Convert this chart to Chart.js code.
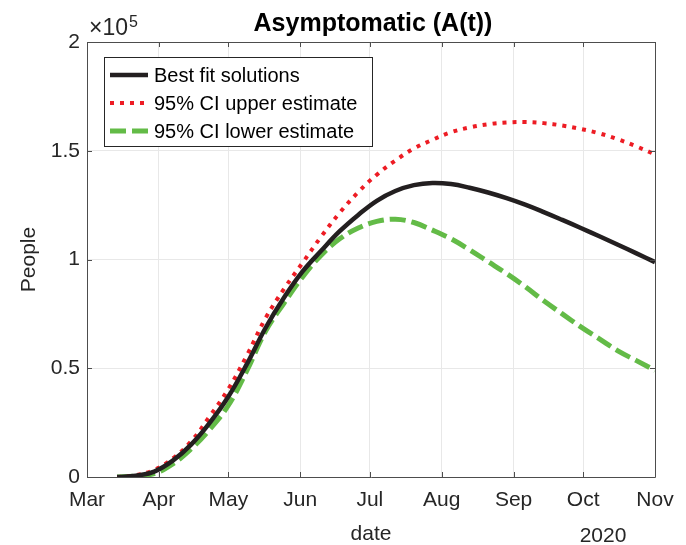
<!DOCTYPE html>
<html>
<head>
<meta charset="utf-8">
<script src="https://cdn.jsdelivr.net/npm/chart.js@4.4.1/dist/chart.umd.min.js"></script>
<style>
  body { margin: 0; background: #fff; }
  #wrap { width: 686px; height: 545px; }
</style>
</head>
<body>
<div id="wrap"><canvas id="asymChart" width="686" height="545"></canvas></div>
<script>
// Dates of the read-off points (2020, every 8 days)
const dates = ['2020-03-14', '2020-03-22', '2020-03-30', '2020-04-07', '2020-04-15', '2020-04-23',
    '2020-05-01', '2020-05-09', '2020-05-17', '2020-05-25', '2020-06-02', '2020-06-10',
    '2020-06-18', '2020-06-26', '2020-07-04', '2020-07-12', '2020-07-20', '2020-07-28',
    '2020-08-05', '2020-08-13', '2020-08-21', '2020-08-29', '2020-09-06', '2020-09-14',
    '2020-09-22', '2020-09-30', '2020-10-08', '2020-10-16', '2020-10-24', '2020-11-01'];

// Asymptomatic people
const bestFit = [0, 600, 2500, 7500, 15000, 25000, 37000, 52000, 68500, 82500, 94500, 104000,
    113000, 120500, 127000, 131500, 134200, 135200, 134700, 133000, 130800, 128200, 125200, 121800,
    118200, 114500, 110700, 106800, 102800, 98800];
const upperCI = [0, 800, 3300, 8500, 16500, 28000, 40500, 56000, 73000, 86500, 98500, 110500,
    121500, 131000, 139000, 145500, 151000, 155000, 158500, 160700, 162200, 163000, 163200, 162700,
    161600, 160000, 158000, 155300, 152000, 148300];
const lowerCI = [0, 400, 1600, 6000, 13000, 22000, 33000, 49000, 67000, 80000, 92000, 102000,
    109500, 114500, 117500, 118500, 117000, 113500, 109500, 104500, 99000, 93500, 87500, 81000,
    75000, 69000, 63500, 58000, 53500, 49000];

// Month tick labels (x axis counts days from 1 Mar 2020)
const monthNames = ['Mar', 'Apr', 'May', 'Jun', 'Jul', 'Aug', 'Sep', 'Oct', 'Nov'];
const monthStarts = ['2020-03-01', '2020-04-01', '2020-05-01', '2020-06-01', '2020-07-01',
    '2020-08-01', '2020-09-01', '2020-10-01', '2020-11-01'];

const FONT = '"Liberation Sans", Arial, Helvetica, sans-serif';
const TEXT = '#262626';
const AXIS = '#4d4d4d';

// days since 1 Mar 2020
function dayOf(s) {
    const p = s.split('-').map(Number);
    return (Date.UTC(p[0], p[1] - 1, p[2]) - Date.UTC(2020, 2, 1)) / 864e5;
}
const monthDays = monthStarts.map(dayOf);

function toPoints(values) {
    return dates.map((d, i) => ({ x: dayOf(d), y: values[i] }));
}

// Draws title, axes box with inward ticks, the x10^5 factor, the year and the legend
const matlabLook = {
    id: 'matlabLook',
    afterDatasetsDraw(chart) {
        const { ctx, chartArea: a, scales } = chart;
        const tl = 5;
        ctx.save();
        ctx.strokeStyle = AXIS;
        ctx.lineWidth = 1;
        ctx.beginPath();
        ctx.rect(a.left + 0.5, a.top + 0.5, a.right - a.left, a.bottom - a.top);
        scales.x.ticks.forEach(t => {
            const px = Math.round(scales.x.getPixelForValue(t.value)) + 0.5;
            ctx.moveTo(px, a.bottom); ctx.lineTo(px, a.bottom - tl);
            ctx.moveTo(px, a.top); ctx.lineTo(px, a.top + tl);
        });
        scales.y.ticks.forEach(t => {
            const py = Math.round(scales.y.getPixelForValue(t.value)) + 0.5;
            ctx.moveTo(a.left, py); ctx.lineTo(a.left + tl, py);
            ctx.moveTo(a.right, py); ctx.lineTo(a.right - tl, py);
        });
        ctx.stroke();

        // title
        ctx.fillStyle = '#000';
        ctx.textBaseline = 'alphabetic';
        ctx.textAlign = 'center';
        ctx.font = 'bold 25px ' + FONT;
        ctx.fillText('Asymptomatic (A(t))', (a.left + a.right) / 2 + 2, 31);

        // exponent label
        ctx.fillStyle = TEXT;
        ctx.textAlign = 'left';
        ctx.font = '23px ' + FONT;
        const base = '\u00d710';
        ctx.fillText(base, a.left + 2, 35);
        const w = ctx.measureText(base).width;
        ctx.font = '16px ' + FONT;
        ctx.fillText('5', a.left + 3 + w, 27);

        // year under the last months
        ctx.font = '21px ' + FONT;
        ctx.textAlign = 'center';
        ctx.fillText('2020', 603, 542);

        // legend
        const lx = 104, ly = 57, lw = 268, lh = 89;
        ctx.fillStyle = '#fff';
        ctx.fillRect(lx, ly, lw, lh);
        ctx.strokeStyle = '#262626';
        ctx.strokeRect(lx + 0.5, ly + 0.5, lw, lh);
        ctx.font = '20px ' + FONT;
        ctx.textAlign = 'left';
        ctx.textBaseline = 'middle';
        chart.data.datasets.forEach((ds, i) => {
            const y = 75 + i * 28;
            ctx.beginPath();
            ctx.strokeStyle = ds.borderColor;
            ctx.lineWidth = ds.borderWidth;
            ctx.setLineDash(ds.borderDash || []);
            ctx.moveTo(110, y);
            ctx.lineTo(148, y);
            ctx.stroke();
            ctx.setLineDash([]);
            ctx.fillStyle = '#000';
            ctx.fillText(ds.label, 154, y + 1);
        });
        ctx.restore();
    }
};

const ctx = document.getElementById('asymChart').getContext('2d');

new Chart(ctx, {
    type: 'line',
    data: {
        datasets: [
            {
                label: 'Best fit solutions',
                data: toPoints(bestFit),
                borderColor: '#231f20',
                borderWidth: 4.5,
                pointRadius: 0,
                tension: 0.4
            },
            {
                label: '95% CI upper estimate',
                data: toPoints(upperCI),
                borderColor: '#ed1c24',
                borderWidth: 4,
                borderDash: [4, 6],
                pointRadius: 0,
                tension: 0.4
            },
            {
                label: '95% CI lower estimate',
                data: toPoints(lowerCI),
                borderColor: '#63bb47',
                borderWidth: 5,
                borderDash: [16, 6],
                pointRadius: 0,
                tension: 0.4
            }
        ]
    },
    options: {
        responsive: false,
        animation: false,
        layout: { padding: { top: 42, right: 31, bottom: 0, left: 0 } },
        plugins: {
            legend: { display: false },
            tooltip: { enabled: false },
            title: { display: false }
        },
        scales: {
            x: {
                type: 'linear',
                min: 0,
                max: 245,
                afterBuildTicks: scale => {
                    scale.ticks = monthDays.map(v => ({ value: v }));
                },
                afterFit: scale => { scale.height = 68; },
                ticks: {
                    autoSkip: false,
                    maxRotation: 0,
                    padding: 11,
                    color: TEXT,
                    font: { family: FONT, size: 21 },
                    callback: v => monthNames[monthDays.indexOf(v)]
                },
                grid: { color: '#e8e8e8', lineWidth: 1, drawTicks: false },
                border: { display: false },
                title: {
                    display: true,
                    text: 'date',
                    color: TEXT,
                    font: { family: FONT, size: 21, lineHeight: 1 },
                    padding: { top: 0, bottom: 0 }
                }
            },
            y: {
                min: 0,
                max: 200000,
                afterFit: scale => { scale.width = 87; },
                ticks: {
                    stepSize: 50000,
                    padding: 7,
                    color: TEXT,
                    font: { family: FONT, size: 21 },
                    callback: v => String(v / 1e5)
                },
                grid: { color: '#e8e8e8', lineWidth: 1, drawTicks: false },
                border: { display: false },
                title: {
                    display: true,
                    text: 'People',
                    color: TEXT,
                    font: { family: FONT, size: 21, lineHeight: 1 },
                    padding: { top: 19, bottom: 0 }
                }
            }
        }
    },
    plugins: [matlabLook]
});
</script>
</body>
</html>
